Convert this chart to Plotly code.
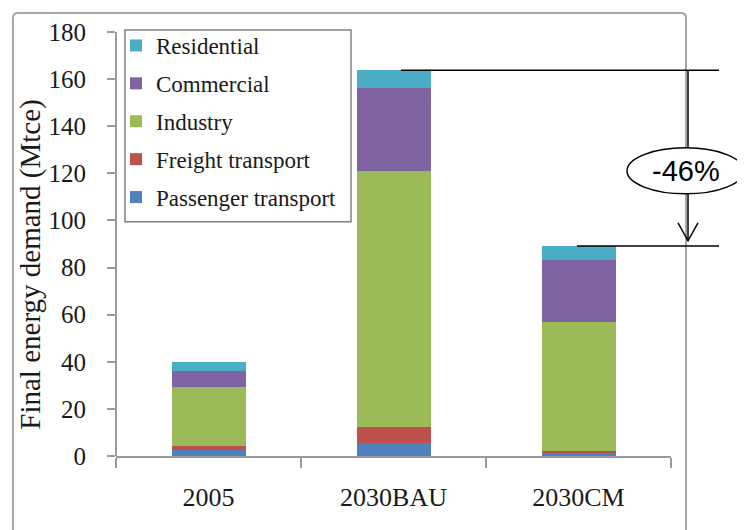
import plotly.graph_objects as go

categories = ["2005", "2030BAU", "2030CM"]
passenger = [2.75, 5.7, 1.2]
freight = [1.3, 6.8, 1.0]
industry = [25.4, 108.5, 54.8]
commercial = [6.8, 35.3, 26.3]
residential = [3.8, 7.5, 5.9]
series_names = ["Passenger transport", "Freight transport", "Industry", "Commercial", "Residential"]
series_values = [passenger, freight, industry, commercial, residential]
colors = ["#4F81BD", "#C0504D", "#9BBB59", "#8064A2", "#4BACC6"]
y_ticks = list(range(0, 181, 20))
y_max_tick = 180
reduction_label = "-46%"

totals = [sum(v) for v in zip(*series_values)]

SERIF = "Liberation Serif"
fig = go.Figure()
n = len(series_names)
for i, (name, vals, col) in enumerate(zip(series_names, series_values, colors)):
    fig.add_trace(go.Bar(x=categories, y=vals, name=name, marker_color=col,
                         marker_line_width=0, legendrank=n - i, legendgroup=name))

# page offset (body margin) and plot area in screen pixels
OFF = 8
W, H = 745, 530
L, R, T, B = 116, 671, 24, 456.5   # screen coords; value 180 sits at y=32
Y180 = 32
y_top = y_max_tick * (B - T) / (B - Y180)

def px(x):
    return (x - L) / (R - L)
def py(y):
    return (B - y) / (B - T)

shapes = []
# outer chart frame
shapes.append(dict(type="path", xref="paper", yref="paper",
                   path=f"M {px(13)},{py(545)} L {px(13)},{py(18)} Q {px(13)},{py(13)} {px(18)},{py(13)} "
                        f"L {px(681)},{py(13)} Q {px(686)},{py(13)} {px(686)},{py(18)} L {px(686)},{py(545)}",
                   line=dict(color="#A6A6A6", width=2)))
# y axis line (0..180)
shapes.append(dict(type="line", xref="paper", yref="y", x0=0, x1=0, y0=0, y1=y_max_tick,
                   line=dict(color="#9A9A9A", width=2)))
# legend box
shapes.append(dict(type="rect", xref="paper", yref="paper",
                   x0=px(125), x1=px(351), y0=py(222), y1=py(30),
                   fillcolor="white", line=dict(color="#808080", width=1.5), layer="below"))
# reduction lines
shapes.append(dict(type="line", xref="paper", yref="y", x0=px(401), x1=px(719),
                   y0=totals[1], y1=totals[1], line=dict(color="black", width=1.5)))
shapes.append(dict(type="line", xref="paper", yref="y", x0=px(577), x1=px(719),
                   y0=totals[2], y1=totals[2], line=dict(color="black", width=1.5)))
shapes.append(dict(type="line", xref="paper", yref="y", x0=px(688), x1=px(688),
                   y0=totals[1], y1=totals[2] + 2.2, line=dict(color="black", width=1.5)))
# open arrow head
shapes.append(dict(type="path", xref="paper", yref="paper",
                   path=f"M {px(678)},{py(223)} L {px(688)},{py(241)} L {px(698)},{py(223)}",
                   line=dict(color="black", width=1.5)))
# ellipse
shapes.append(dict(type="circle", xref="paper", yref="paper",
                   x0=px(627), x1=px(744), y0=py(194), y1=py(148),
                   fillcolor="white", line=dict(color="black", width=1.5)))

annotations = [
    dict(text=reduction_label, xref="paper", yref="paper", x=px(686), y=py(171),
         showarrow=False, font=dict(family="Liberation Sans", size=29, color="black"),
         xanchor="center", yanchor="middle"),
    dict(text="Final energy demand (Mtce)", xref="paper", yref="paper", x=px(31), y=py(265),
         textangle=-90, showarrow=False, font=dict(family=SERIF, size=29, color="#1a1a1a"),
         xanchor="center", yanchor="middle"),
]

fig.update_layout(
    width=W, height=H,
    margin=dict(l=L - OFF, r=W - R + OFF, t=T - OFF, b=H - B + OFF),
    paper_bgcolor="white", plot_bgcolor="white",
    barmode="stack", bargap=0.6,
    showlegend=True,
    legend=dict(x=0, y=1, xanchor="left", yanchor="top",
                traceorder="grouped", tracegroupgap=5,
                bgcolor="rgba(0,0,0,0)", borderwidth=0,
                font=dict(family=SERIF, size=23, color="#1a1a1a")),
    shapes=shapes, annotations=annotations,
    xaxis=dict(showline=True, linecolor="#9A9A9A", linewidth=2, ticks="outside",
               tickson="boundaries", ticklen=10, tickcolor="#9A9A9A", tickwidth=2,
               tickfont=dict(family=SERIF, size=26, color="#1a1a1a"),
               ticklabelstandoff=17, showgrid=False, zeroline=False, fixedrange=True),
    yaxis=dict(range=[0, y_top], tickvals=y_ticks, showline=False,
               ticks="outside", ticklen=8, tickcolor="#9A9A9A", tickwidth=2,
               tickfont=dict(family=SERIF, size=25, color="#1a1a1a"),
               ticklabelstandoff=16, showgrid=False, zeroline=False, fixedrange=True),
)

fig.write_html("out.html")
